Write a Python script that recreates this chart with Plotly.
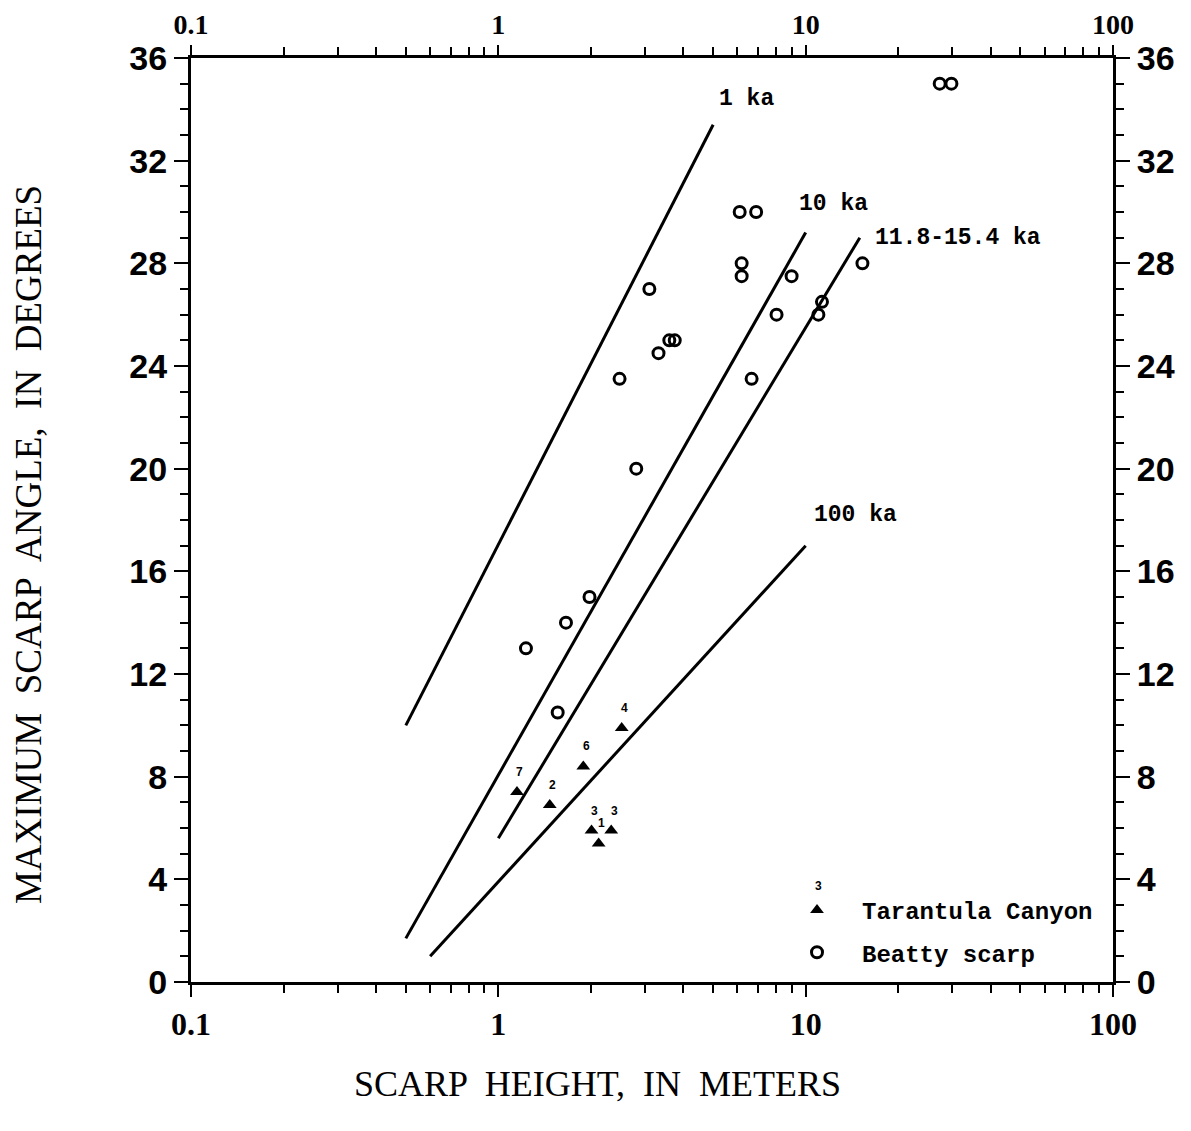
import math
import plotly.graph_objects as go

# ---- data ----
beatty_h = [1.23, 1.66, 1.98, 1.56, 2.48, 2.81, 3.10, 3.32, 3.6, 3.75, 6.19, 6.19, 6.1, 6.9,
            6.67, 8.04, 9.0, 11.3, 11.0, 15.3, 27.3, 29.8]
beatty_a = [13, 14, 15, 10.5, 23.5, 20, 27, 24.5, 25, 25, 28, 27.5, 30, 30,
            23.5, 26, 27.5, 26.5, 26, 28, 35, 35]

tar_h = [1.15, 1.47, 1.89, 2.52, 2.01, 2.33, 2.12]
tar_a = [7.4, 6.9, 8.4, 9.9, 5.9, 5.9, 5.4]
tar_lbl = ["7", "2", "6", "4", "3", "3", "1"]

lines = {
    "1 ka": ([0.5, 5.0], [10.0, 33.4]),
    "10 ka": ([0.5, 10.0], [1.7, 29.2]),
    "11.8-15.4 ka": ([1.0, 15.0], [5.6, 29.0]),
    "100 ka": ([0.6, 10.0], [1.0, 17.0]),
}
line_lbl_pos = {
    "1 ka": (5.13, 34.4),
    "10 ka": (9.35, 30.3),
    "11.8-15.4 ka": (16.5, 29.0),
    "100 ka": (10.46, 18.2),
}

x_ticks = [0.1, 1, 10, 100]
x_ticktext = ["0.1", "1", "10", "100"]
x_minor = [m * d for d in (0.1, 1, 10) for m in range(2, 10)]
y_ticks = list(range(0, 37, 4))

# page geometry (browser body adds an 8px offset)
OFF = 8
L, R, T, B = 191, 1113, 58, 982   # plot area in page pixels
W, H = 1191 - OFF, 1131 - OFF


def px(xp):
    return (xp - L) / (R - L)


def py(yp):
    return (B - yp) / (B - T)


# ---- figure ----
fig = go.Figure()
for name, (xs, ys) in lines.items():
    fig.add_trace(go.Scatter(x=xs, y=ys, mode="lines", line=dict(color="black", width=3),
                             showlegend=False, hoverinfo="skip"))

fig.add_trace(go.Scatter(x=tar_h, y=tar_a, mode="markers", name="Tarantula Canyon",
                         legendgroup="a",
                         marker=dict(symbol="triangle-up", size=12, color="black")))
fig.add_trace(go.Scatter(x=beatty_h, y=beatty_a, mode="markers", name="Beatty scarp",
                         legendgroup="b",
                         marker=dict(symbol="circle-open", size=11, color="black",
                                     line=dict(width=3, color="black"))))
# invisible trace for secondary axes
fig.add_trace(go.Scatter(x=[1], y=[1], xaxis="x2", yaxis="y2", mode="markers",
                         marker=dict(opacity=0), showlegend=False, hoverinfo="skip"))

# small number labels above the triangles
for hx, ay, t in zip(tar_h, tar_a, tar_lbl):
    fig.add_annotation(x=math.log10(hx), y=ay, xref="x", yref="y", text=t, showarrow=False,
                       xshift=3, yshift=20,
                       font=dict(family="Liberation Sans", size=12, color="black", weight="bold"))

for name, (lx, ly) in line_lbl_pos.items():
    fig.add_annotation(x=math.log10(lx), y=ly, xref="x", yref="y", text=name, showarrow=False,
                       xanchor="left", yanchor="middle",
                       font=dict(family="Liberation Mono", size=23, color="black", weight="bold"))

# small "3" label above legend triangle
fig.add_annotation(x=px(818), y=py(886), xref="paper", yref="paper",
                   text="3", showarrow=False, xanchor="center", yanchor="middle",
                   font=dict(family="Liberation Sans", size=12, color="black", weight="bold"))

# axis titles
fig.add_annotation(x=px(597), y=py(1084), xref="paper", yref="paper",
                   text="SCARP  HEIGHT,  IN  METERS", showarrow=False,
                   xanchor="center", yanchor="middle",
                   font=dict(family="Liberation Serif", size=36, color="black"))
fig.add_annotation(x=px(28), y=py(545), xref="paper", yref="paper",
                   text="MAXIMUM  SCARP  ANGLE,  IN  DEGREES", showarrow=False, textangle=-90,
                   xanchor="center", yanchor="middle",
                   font=dict(family="Liberation Serif", size=37, color="black"))

xcommon = dict(type="log", range=[-1, 2], showgrid=False, zeroline=False, showline=True,
               automargin=False,
               linecolor="black", linewidth=3, ticks="outside", tickwidth=2,
               tickcolor="black", tickmode="array", tickvals=x_ticks, ticktext=x_ticktext,
               minor=dict(tickmode="array", tickvals=x_minor, ticks="outside", ticklen=8,
                          tickwidth=2, tickcolor="black"))
ycommon = dict(range=[0, 36], showgrid=False, zeroline=False, showline=True,
               automargin=False,
               linecolor="black", linewidth=3, ticks="outside", ticklen=14, tickwidth=2,
               tickcolor="black", tickmode="array", tickvals=y_ticks,
               minor=dict(dtick=1, ticks="outside", ticklen=8, tickwidth=2, tickcolor="black"),
               tickfont=dict(family="Liberation Sans", size=34, color="black", weight="bold"))

fig.update_layout(
    width=W, height=H,
    margin=dict(l=L - OFF, r=W + OFF - R, t=T - OFF, b=H + OFF - B, autoexpand=False),
    paper_bgcolor="white", plot_bgcolor="white",
    xaxis=dict(**xcommon, side="bottom", ticklen=12,
               tickfont=dict(family="Liberation Serif", size=32, color="black", weight="bold")),
    xaxis2=dict(**xcommon, side="top", overlaying="x", ticklen=10,
                tickfont=dict(family="Liberation Serif", size=28, color="black", weight="bold")),
    yaxis=dict(**ycommon, side="left"),
    yaxis2=dict(**ycommon, side="right", overlaying="y"),
    legend=dict(x=px(772), y=py(888), xanchor="left", yanchor="top",
                bgcolor="rgba(0,0,0,0)", traceorder="grouped", tracegroupgap=8,
                itemwidth=80,
                font=dict(family="Liberation Mono", size=24, color="black", weight="bold")),
    showlegend=True,
)

fig.write_html("out.html")
